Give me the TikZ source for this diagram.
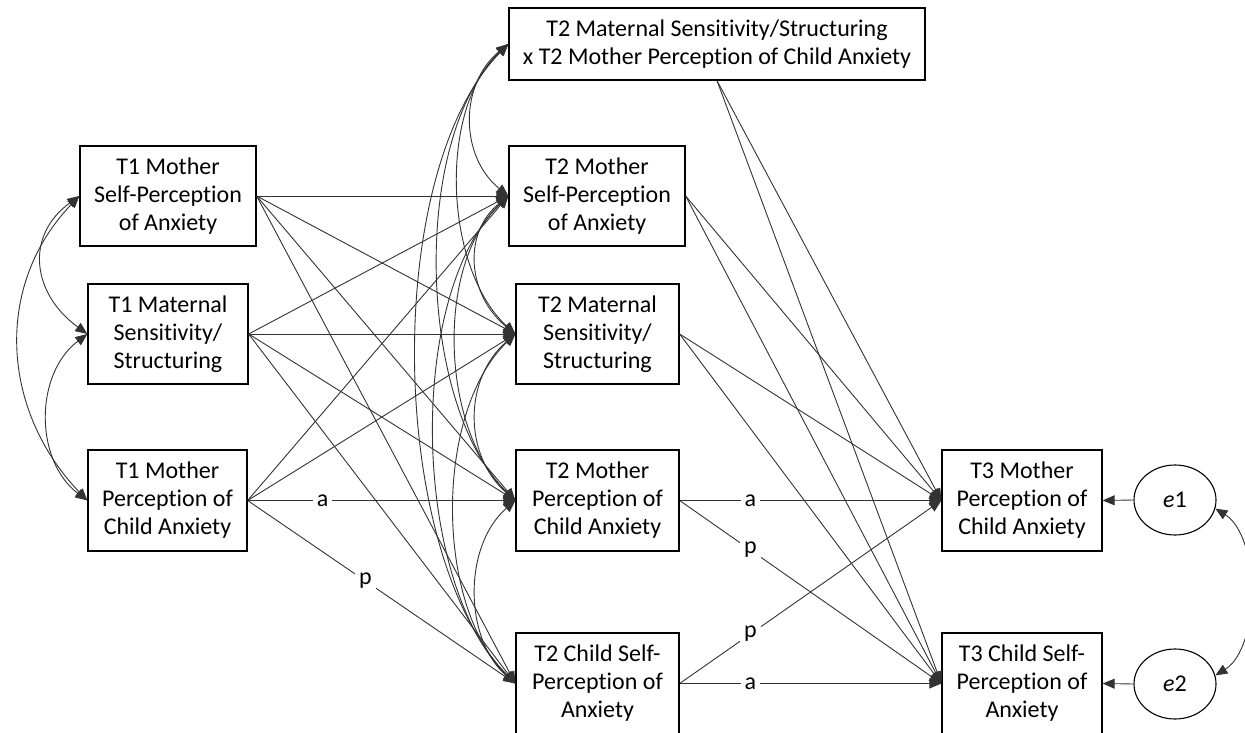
\documentclass[tikz,border=0pt]{standalone}
\usepackage{fontspec}
\setmainfont{Carlito}[Ligatures=NoCommon]
\usetikzlibrary{arrows.meta,calc,shapes.geometric}
\begin{document}
\begin{tikzpicture}[x=1pt,y=-1pt,
  font=\fontsize{24}{28}\selectfont,
  >={Triangle[length=12pt,width=10pt]},
  box/.style={draw, line width=1.3pt, align=center, inner sep=0pt},
  reg/.style={->, line width=0.9pt, draw=black!80},
  cov/.style={<->, line width=0.9pt, draw=black!80},
  lab/.style={fill=white, inner sep=4pt},
  err/.style={draw, line width=1.1pt, ellipse, minimum width=82pt, minimum height=70pt, inner sep=0pt}]
\useasboundingbox (0,0) rectangle (1245,733);

% Time 1
\node[box, minimum width=176pt, minimum height=100pt] (t1s) at (168,196) {T1 Mother\\Self-Perception\\of Anxiety};
\node[box, minimum width=160pt, minimum height=100pt] (t1m) at (168,334) {T1 Maternal\\Sensitivity/\\Structuring};
\node[box, minimum width=159pt, minimum height=101pt] (t1c) at (167.5,500.5) {T1 Mother\\Perception of\\Child Anxiety};

% Time 2
\node[box, minimum width=416pt, minimum height=72pt] (t2x) at (717,44) {T2 Maternal Sensitivity/Structuring\\x T2 Mother Perception of Child Anxiety};
\node[box, minimum width=176pt, minimum height=100pt] (t2s) at (597,196) {T2 Mother\\Self-Perception\\of Anxiety};
\node[box, minimum width=163pt, minimum height=100pt] (t2m) at (597.5,334) {T2 Maternal\\Sensitivity/\\Structuring};
\node[box, minimum width=163pt, minimum height=101pt] (t2c) at (597.5,500.5) {T2 Mother\\Perception of\\Child Anxiety};
\node[box, minimum width=163pt, minimum height=101pt] (t2k) at (597.5,683.5) {T2 Child Self-\\Perception of\\Anxiety};

% Time 3 and residuals
\node[box, minimum width=160pt, minimum height=101pt] (t3c) at (1022,500.5) {T3 Mother\\Perception of\\Child Anxiety};
\node[box, minimum width=160pt, minimum height=101pt] (t3k) at (1022,683.5) {T3 Child Self-\\Perception of\\Anxiety};
\node[err] (e1) at (1175,500) {\textit{e}1};
\node[err] (e2) at (1175,684) {\textit{e}2};

% T1 covariances
\draw[cov] (t1s.west) .. controls +(-55,40) and +(-55,-40) .. (t1m.west);
\draw[cov] (t1m.west) .. controls +(-53,40) and +(-53,-40) .. (t1c.west);
\draw[cov] (t1s.west) .. controls +(-86,90) and +(-86,-90) .. (t1c.west);

% T2 residual covariances
\draw[cov] (t2x.west) .. controls +(-49,40) and +(-49,-40) .. (t2s.west);
\draw[cov] (t2x.west) .. controls +(-71,65) and +(-71,-65) .. (t2m.west);
\draw[cov] (t2x.west) .. controls +(-98,95) and +(-98,-95) .. (t2c.west);
\draw[cov] (t2x.west) .. controls +(-127,130) and +(-127,-130) .. (t2k.west);
\draw[cov] (t2s.west) .. controls +(-47,38) and +(-47,-38) .. (t2m.west);
\draw[cov] (t2s.west) .. controls +(-74,70) and +(-74,-70) .. (t2c.west);
\draw[cov] (t2s.west) .. controls +(-103,100) and +(-103,-100) .. (t2k.west);
\draw[cov] (t2m.west) .. controls +(-52,45) and +(-52,-45) .. (t2c.west);
\draw[cov] (t2m.west) .. controls +(-81,78) and +(-81,-78) .. (t2k.west);
\draw[cov] (t2c.west) .. controls +(-52,45) and +(-52,-45) .. (t2k.west);

% T1 -> T2 paths
\foreach \src in {t1s,t1m,t1c}{
  \draw[reg] (\src.east) -- (t2s.west);
  \draw[reg] (\src.east) -- (t2m.west);
}
\draw[reg] (t1s.east) -- (t2c.west);
\draw[reg] (t1s.east) -- (t2k.west);
\draw[reg] (t1m.east) -- (t2c.west);
\draw[reg] (t1m.east) -- (t2k.west);
\draw[reg] (t1c.east) -- node[lab, pos=0.28] {a} (t2c.west);
\draw[reg] (t1c.east) -- node[lab, pos=0.44] {p} (t2k.west);

% T2 -> T3 paths
\draw[reg] (t2x.south) -- (t3c.west);
\draw[reg] (t2x.south) -- (t3k.west);
\draw[reg] (t2s.east) -- (t3c.west);
\draw[reg] (t2s.east) -- (t3k.west);
\draw[reg] (t2m.east) -- (t3c.west);
\draw[reg] (t2m.east) -- (t3k.west);
\draw[reg] (t2c.east) -- node[lab, pos=0.27] {a} (t3c.west);
\draw[reg] (t2c.east) -- node[lab, pos=0.27] {p} (t3k.west);
\draw[reg] (t2k.east) -- node[lab, pos=0.27] {p} (t3c.west);
\draw[reg] (t2k.east) -- node[lab, pos=0.27] {a} (t3k.west);

% residuals
\draw[reg] (e1.west) -- (t3c.east);
\draw[reg] (e2.west) -- (t3k.east);
\draw[cov] (e1.-12) .. controls +(45,28) and +(45,-28) .. (e2.12);
\end{tikzpicture}
\end{document}
